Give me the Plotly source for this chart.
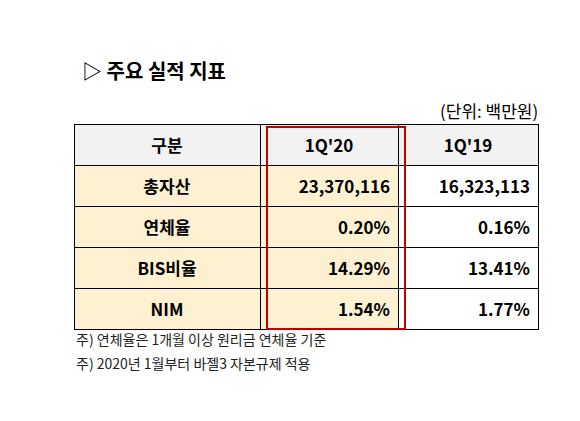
import plotly.graph_objects as go

W, H = 580, 421
headers = ["구분", "1Q'20", "1Q'19"]
labels = ["총자산", "연체율", "BIS비율", "NIM"]
q120 = ["23,370,116", "0.20%", "14.29%", "1.54%"]
q119 = ["16,323,113", "0.16%", "13.41%", "1.77%"]
notes = ["주) 연체율은 1개월 이상 원리금 연체율 기준", "주) 2020년 1월부터 바젤3 자본규제 적용"]

F = "Noto Sans CJK KR"
beige = "#fdf1d2"
fig = go.Figure(go.Table(
    domain=dict(x=[66/W, 530/W], y=[0, 1-116/H]),
    columnwidth=[186, 138, 140],
    header=dict(values=[f"<b>{h}</b>" for h in headers], fill_color="#f2f2f2",
                line=dict(color="black", width=1), align="center", height=40,
                font=dict(family=F, size=17, color="black")),
    cells=dict(values=[[f"<b>{v}</b>" for v in labels], [f"<b>{v}</b>" for v in q120], [f"<b>{v}</b>" for v in q119]],
               fill_color=[beige, beige, "white"], line=dict(color="black", width=1),
               align=["center", "right", "right"], height=40,
               font=dict(family=F, size=17, color="black")),
))
fig.add_shape(type="rect", xref="paper", yref="paper", x0=259/W, x1=397/W, y0=1-321/H, y1=1-119/H,
              line=dict(color="#c00000", width=2))
fig.add_annotation(x=72/W, y=1-62/H, xref="paper", yref="paper", xanchor="left", yanchor="middle",
                   text="<b>▷ 주요 실적 지표</b>", showarrow=False, font=dict(family=F, size=20, color="black"))
fig.add_annotation(x=532/W, y=1-102/H, xref="paper", yref="paper", xanchor="right", yanchor="middle",
                   text="(단위: 백만원)", showarrow=False, font=dict(family=F, size=17, color="black"))
for i, n in enumerate(notes):
    fig.add_annotation(x=66/W, y=1-(331+24*i)/H, xref="paper", yref="paper", xanchor="left", yanchor="middle",
                       text=n, showarrow=False, font=dict(family=F, size=14, color="#222"))
fig.update_layout(width=W, height=H, margin=dict(l=0, r=0, t=0, b=0), paper_bgcolor="white")
fig.write_html("out.html")
